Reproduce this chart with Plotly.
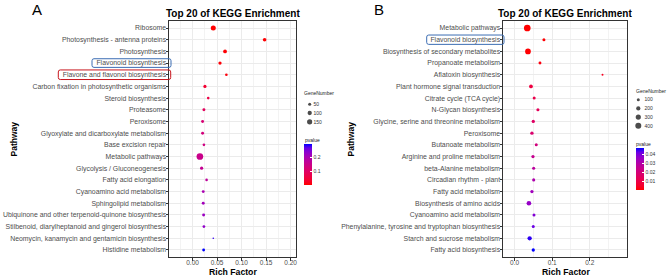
import plotly.graph_objects as go

# ---------------- data ----------------
pathways_a = [
    "Ribosome", "Photosynthesis - antenna proteins", "Photosynthesis",
    "Flavonoid biosynthesis", "Flavone and flavonol biosynthesis",
    "Carbon fixation in photosynthetic organisms", "Steroid biosynthesis",
    "Proteasome", "Peroxisome", "Glyoxylate and dicarboxylate metabolism",
    "Base excision repair", "Metabolic pathways", "Glycolysis / Gluconeogenesis",
    "Fatty acid elongation", "Cyanoamino acid metabolism", "Sphingolipid metabolism",
    "Ubiquinone and other terpenoid-quinone biosynthesis",
    "Stilbenoid, diarylheptanoid and gingerol biosynthesis",
    "Neomycin, kanamycin and gentamicin biosynthesis", "Histidine metabolism",
]
rich_a = [0.0423, 0.147, 0.0663, 0.056, 0.069, 0.0253, 0.032, 0.0232, 0.0205, 0.0205,
          0.0232, 0.015, 0.0185, 0.0287, 0.0218, 0.0218, 0.0226, 0.0232, 0.0423, 0.0226]
genes_a = [135, 70, 75, 57, 38, 56, 36, 47, 45, 46, 37, 238, 55, 35, 44, 45, 46, 40, 14, 44]
pval_a = [0.001, 0.003, 0.004, 0.006, 0.01, 0.04, 0.06, 0.09, 0.12, 0.13,
          0.14, 0.15, 0.16, 0.17, 0.2, 0.21, 0.22, 0.23, 0.28, 0.295]

pathways_b = [
    "Metabolic pathways", "Flavonoid biosynthesis", "Biosynthesis of secondary metabolites",
    "Propanoate metabolism", "Aflatoxin biosynthesis", "Plant hormone signal transduction",
    "Citrate cycle (TCA cycle)", "N-Glycan biosynthesis",
    "Glycine, serine and threonine metabolism", "Peroxisome", "Butanoate metabolism",
    "Arginine and proline metabolism", "beta-Alanine metabolism", "Circadian rhythm - plant",
    "Fatty acid metabolism", "Biosynthesis of amino acids", "Cyanoamino acid metabolism",
    "Phenylalanine, tyrosine and tryptophan biosynthesis", "Starch and sucrose metabolism",
    "Fatty acid biosynthesis",
]
rich_b = [0.0336, 0.078, 0.0355, 0.0675, 0.234, 0.0435, 0.052, 0.062, 0.0496, 0.046,
          0.0576, 0.0488, 0.0507, 0.0507, 0.046, 0.038, 0.0515, 0.0496, 0.040, 0.0496]
genes_b = [500, 100, 360, 95, 44, 160, 100, 105, 120, 125, 100, 120, 105, 105, 120, 240, 100, 100, 205, 120]
pval_b = [0.0003, 0.0008, 0.0005, 0.002, 0.004, 0.009, 0.011, 0.014, 0.016, 0.018,
          0.021, 0.025, 0.028, 0.031, 0.034, 0.036, 0.039, 0.042, 0.045, 0.047]

legend_sizes_a = [50, 100, 150]
legend_sizes_b = [100, 200, 300, 400]

xticks_a = [0.0, 0.05, 0.10, 0.15, 0.20]
xticks_b = [0.0, 0.1, 0.2]
cticks_a = [0.1, 0.2]
cticks_b = [0.01, 0.02, 0.03, 0.04]

# ---------------- helpers ----------------
W, H = 669, 276
def X(p):
    return p / W
def Y(p):
    return 1 - p / H


def lab_scale(c1, c2, n=11):
    def lin(c):
        c = c / 255
        return c / 12.92 if c <= 0.04045 else ((c + 0.055) / 1.055) ** 2.4
    def delin(c):
        c = 12.92 * c if c <= 0.0031308 else 1.055 * c ** (1 / 2.4) - 0.055
        return max(0, min(255, round(c * 255)))
    wp = (0.95047, 1.0, 1.08883)
    d = 6 / 29
    def f(t):
        return t ** (1 / 3) if t > d ** 3 else t / (3 * d * d) + 4 / 29
    def finv(t):
        return t ** 3 if t > d else 3 * d * d * (t - 4 / 29)
    def to_lab(rgb):
        r, g, b = [lin(v) for v in rgb]
        x = 0.4124 * r + 0.3576 * g + 0.1805 * b
        y = 0.2126 * r + 0.7152 * g + 0.0722 * b
        z = 0.0193 * r + 0.1192 * g + 0.9505 * b
        fx, fy, fz = f(x / wp[0]), f(y / wp[1]), f(z / wp[2])
        return (116 * fy - 16, 500 * (fx - fy), 200 * (fy - fz))
    def to_rgb(lab):
        L, a, b = lab
        fy = (L + 16) / 116
        fx = fy + a / 500
        fz = fy - b / 200
        x, y, z = wp[0] * finv(fx), wp[1] * finv(fy), wp[2] * finv(fz)
        r = 3.2406 * x - 1.5372 * y - 0.4986 * z
        g = -0.9689 * x + 1.8758 * y + 0.0415 * z
        bb = 0.0557 * x - 0.2040 * y + 1.0570 * z
        return tuple(delin(max(0, v)) for v in (r, g, bb))
    l1, l2 = to_lab(c1), to_lab(c2)
    out = []
    for i in range(n):
        t = i / (n - 1)
        lab = tuple(l1[k] + (l2[k] - l1[k]) * t for k in range(3))
        r, g, b = to_rgb(lab)
        out.append([t, f"rgb({r},{g},{b})"])
    return out

cscale = lab_scale((255, 0, 0), (0, 0, 255))
FONT = "Liberation Sans, Arial, sans-serif"
SIZEREF_A = 2 / 0.187
SIZEREF_B = 2 / 0.09

fig = go.Figure()

def cbar(x, ybot, length, thick, ticks):
    return dict(x=X(x), xanchor="left", y=Y(ybot), yanchor="bottom",
                len=length, lenmode="pixels", thickness=thick, thicknessmode="pixels",
                outlinewidth=0, xpad=0, ypad=0, tickmode="array", tickvals=ticks,
                ticktext=[f"{v:g}" for v in ticks],
                ticks="inside", ticklen=2, tickcolor="white", tickwidth=0.6,
                tickfont=dict(family=FONT, size=5, color="#333"))

# main panels
fig.add_trace(go.Scatter(
    x=rich_a, y=pathways_a, mode="markers", xaxis="x", yaxis="y",
    marker=dict(size=genes_a, sizemode="area", sizeref=SIZEREF_A, color=pval_a,
                colorscale=cscale, line=dict(width=0), opacity=1,
                showscale=True, colorbar=cbar(304, 185, 41, 8, cticks_a)),
))
fig.add_trace(go.Scatter(
    x=rich_b, y=pathways_b, mode="markers", xaxis="x2", yaxis="y2",
    marker=dict(size=genes_b, sizemode="area", sizeref=SIZEREF_B, color=pval_b,
                colorscale=cscale, line=dict(width=0), opacity=1,
                showscale=True, colorbar=cbar(635.7, 190, 42, 7.6, cticks_b)),
))

# size legends
fig.add_trace(go.Scatter(
    x=[0] * len(legend_sizes_a), y=[str(v) for v in legend_sizes_a], mode="markers",
    xaxis="x3", yaxis="y3",
    marker=dict(size=legend_sizes_a, sizemode="area", sizeref=SIZEREF_A, color="black",
                line=dict(width=0)),
))
fig.add_trace(go.Scatter(
    x=[0] * len(legend_sizes_b), y=[str(v) for v in legend_sizes_b], mode="markers",
    xaxis="x4", yaxis="y4",
    marker=dict(size=legend_sizes_b, sizemode="area", sizeref=SIZEREF_B, color="black",
                line=dict(width=0)),
))

grid = "#EBEBEB"
border = "#333333"

def xax(domain, rng, ticks, fmt, minor_dt):
    return dict(domain=domain, range=rng, tickvals=ticks, tickformat=fmt,
                showgrid=True, gridcolor=grid, gridwidth=0.8, zeroline=False,
                showline=True, linecolor=border, linewidth=1, mirror=True,
                ticks="outside", ticklen=2.5, tickwidth=0.8, tickcolor=border,
                ticklabelstandoff=-3,
                tickfont=dict(family=FONT, size=6.5, color="#4d4d4d"),
                minor=dict(dtick=minor_dt, tick0=0, showgrid=True, gridcolor="#F3F3F3",
                           gridwidth=0.5, ticks=""),
                automargin=False, fixedrange=True)

def yax(domain, cats, anchor):
    return dict(domain=domain, type="category", categoryorder="array", categoryarray=cats,
                range=[len(cats) - 0.4, -0.6], showgrid=True, gridcolor=grid, gridwidth=0.8,
                zeroline=False, showline=True, linecolor=border, linewidth=1, mirror=True,
                ticks="outside", ticklen=2.5, tickwidth=0.8, tickcolor=border,
                ticklabelstandoff=-2,
                tickfont=dict(family=FONT, size=6.9, color="#4d4d4d"),
                anchor=anchor, automargin=False, fixedrange=True)

ydom = [Y(257), Y(21)]

def legax(domain, anchor):
    return dict(domain=domain, range=[-1, 1], visible=False, anchor=anchor, fixedrange=True)

def legyax(domain, cats, anchor):
    return dict(domain=domain, type="category", categoryorder="array", categoryarray=cats,
                range=[len(cats) - 0.5, -0.5], side="right", anchor=anchor,
                showgrid=False, zeroline=False, showline=False, ticks="",
                tickfont=dict(family=FONT, size=5, color="#333"), fixedrange=True,
                automargin=False)

cats_la = [str(v) for v in legend_sizes_a]
cats_lb = [str(v) for v in legend_sizes_b]

fig.update_layout(
    width=W, height=H, margin=dict(l=0, r=0, t=0, b=0, pad=0),
    paper_bgcolor="white", plot_bgcolor="white", showlegend=False,
    font=dict(family=FONT, color="black"),
    xaxis=xax([X(169), X(296)], [-0.048, 0.211], xticks_a, ".2f", 0.025),
    yaxis=yax(ydom, pathways_a, "x"),
    xaxis2=xax([X(503), X(627.3)], [-0.031, 0.300], xticks_b, ".1f", 0.05),
    yaxis2=yax(ydom, pathways_b, "x2"),
    xaxis3=legax([X(306.9), X(312.5)], "y3"),
    yaxis3=legyax([Y(99.8 + 26.4), Y(99.8)], cats_la, "x3"),
    xaxis4=legax([X(633.1), X(643.5)], "y4"),
    yaxis4=legyax([Y(95.4 + 34.7), Y(95.4)], cats_lb, "x4"),
)

def ann(text, x, y, size, bold=False, xanchor="center", angle=0, color="black",
        yanchor="middle"):
    fig.add_annotation(text=text, x=X(x), y=Y(y), xref="paper", yref="paper",
                       showarrow=False, xanchor=xanchor, yanchor=yanchor, textangle=angle,
                       borderpad=0,
                       font=dict(family=FONT, size=size, color=color,
                                 weight="bold" if bold else "normal"))

ann("A", 37, 0, 15, yanchor="top")
ann("B", 379, 0, 15, yanchor="top")
ann("Top 20 of KEGG Enrichment", 232.5, 13.3, 10, bold=True)
ann("Top 20 of KEGG Enrichment", 565.2, 13.3, 10, bold=True)
ann("Pathway", 13.5, 139, 8.5, bold=True, angle=-90)
ann("Pathway", 350.5, 139, 8.5, bold=True, angle=-90)
ann("Rich Factor", 232.5, 271.5, 8.7, bold=True)
ann("Rich Factor", 565.5, 271.5, 8.7, bold=True)
ann("GeneNumber", 303, 92.7, 5, xanchor="left", color="#222")
ann("GeneNumber", 634.5, 90.5, 5, xanchor="left", color="#222")
ann("pvalue", 303.5, 140.3, 5, xanchor="left", color="#222")
ann("pvalue", 635, 143.5, 5, xanchor="left", color="#222")

# rounded highlight boxes around labels
def rbox(x0, x1, row, half, color, yref):
    r = 2.0
    rx = r / W
    ry = r / 11.68
    a, b = X(x0), X(x1)
    t, btm = row - half, row + half
    path = (f"M {a + rx},{t} L {b - rx},{t} Q {b},{t} {b},{t + ry} "
            f"L {b},{btm - ry} Q {b},{btm} {b - rx},{btm} "
            f"L {a + rx},{btm} Q {a},{btm} {a},{btm - ry} "
            f"L {a},{t + ry} Q {a},{t} {a + rx},{t} Z")
    fig.add_shape(type="path", path=path, xref="paper", yref=yref,
                  line=dict(color=color, width=1), fillcolor="rgba(0,0,0,0)", layer="above")

rbox(92, 171, pathways_a.index("Flavonoid biosynthesis"), 0.37, "#3B6DB3", "y")
rbox(58.3, 170.7, pathways_a.index("Flavone and flavonol biosynthesis"), 0.41, "#C8161D", "y")
rbox(426.7, 504, pathways_b.index("Flavonoid biosynthesis"), 0.4, "#3B6DB3", "y2")

fig.write_html("out.html", config={"displayModeBar": False},
               post_script="document.body.style.margin='0px';")
